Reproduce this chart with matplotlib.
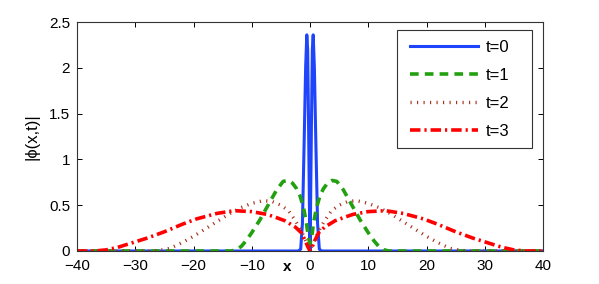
import matplotlib
matplotlib.use('Agg')
import matplotlib.pyplot as plt
from matplotlib.patches import Rectangle

# values
x_t0 = [-40, -2, -1.6, -1.3, -1.0, -0.75, -0.55, -0.4, -0.25, -0.1, 0,
        0.1, 0.25, 0.4, 0.55, 0.75, 1.0, 1.3, 1.6, 2, 40]
y_t0 = [0, 0, 0.02, 0.3, 1.2, 2.0, 2.36, 2.2, 1.4, 0.5, 0.0,
        0.5, 1.4, 2.2, 2.36, 2.0, 1.2, 0.3, 0.02, 0, 0]

x_t1 = [-40, -13.5, -12.6, -11.8, -11, -10, -8.6, -7.2, -5.7, -4.6, -3.8, -3.0, -2.3, -1.7, -1.1, -0.6, -0.3, 0,
        0.3, 0.6, 1.1, 1.7, 2.3, 3.0, 3.8, 4.6, 5.7, 7.2, 8.6, 10, 11, 11.8, 12.6, 13.5, 40]
y_t1 = [0, 0, 0.015, 0.05, 0.11, 0.20, 0.34, 0.50, 0.67, 0.76, 0.77, 0.74, 0.68, 0.60, 0.47, 0.30, 0.16, 0.08,
        0.16, 0.30, 0.47, 0.60, 0.68, 0.74, 0.77, 0.76, 0.67, 0.50, 0.34, 0.20, 0.11, 0.05, 0.015, 0, 0]

x_t2 = [-40, -28, -26, -24, -22, -20, -18, -16, -14, -12, -10, -8, -6.5, -5, -3.7, -2.5, -1.5, -0.8, -0.4, 0,
        0.4, 0.8, 1.5, 2.5, 3.7, 5, 6.5, 8, 10, 12, 14, 16, 18, 20, 22, 24, 26, 28, 40]
y_t2 = [0, 0, 0.005, 0.03, 0.09, 0.16, 0.24, 0.32, 0.40, 0.47, 0.52, 0.55, 0.54, 0.50, 0.44, 0.33, 0.22, 0.12, 0.06, 0.02,
        0.06, 0.12, 0.22, 0.33, 0.44, 0.50, 0.54, 0.55, 0.52, 0.47, 0.40, 0.32, 0.24, 0.16, 0.09, 0.03, 0.005, 0, 0]

x_t3 = [-40, -37, -35, -33, -30.5, -28, -25, -22, -19.5, -16, -13, -10, -7.4, -6, -4.3, -2.5, -1.5, -0.8, -0.4, 0,
        0.4, 0.8, 1.5, 2.5, 4.3, 6, 7.4, 10, 13, 16, 19.5, 22, 25, 28, 30.5, 33, 35, 37, 40]
y_t3 = [0, 0, 0.012, 0.04, 0.09, 0.14, 0.21, 0.29, 0.35, 0.41, 0.44, 0.43, 0.40, 0.37, 0.33, 0.26, 0.20, 0.11, 0.05, 0.0,
        0.05, 0.11, 0.20, 0.26, 0.33, 0.37, 0.40, 0.43, 0.44, 0.41, 0.35, 0.29, 0.21, 0.14, 0.09, 0.04, 0.012, 0, 0]

x_ticks = [-40, -30, -20, -10, 0, 10, 20, 30, 40]
y_ticks = [0, 0.5, 1, 1.5, 2, 2.5]

plt.rcParams['font.family'] = ['Liberation Sans', 'DejaVu Sans']

fig = plt.figure(figsize=(5.99, 2.84), dpi=100)
ax = fig.add_axes([77 / 599, 33 / 284, 466 / 599, 229 / 284])

ax.plot(x_t0, y_t0, color='#1f45fc', lw=2.2, label='t=0')
ax.plot(x_t1, y_t1, color='#22a010', lw=2.6, dashes=(2.4, 1.7), label='t=1')
ax.plot(x_t2, y_t2, color='#a8341f', lw=2.4, dashes=(0.35, 1.6), label='t=2')
ax.plot(x_t3, y_t3, color='#ff0000', lw=2.6, dashes=(2.9, 1.1, 0.6, 1.1), label='t=3')

ax.set_xlim(-40, 40)
ax.set_ylim(0, 2.5)
ax.set_xticks(x_ticks)
ax.set_yticks(y_ticks)
ax.set_yticklabels(['0', '0.5', '1', '1.5', '2', '2.5'])
ax.tick_params(direction='in', top=True, right=True, length=3.6, width=0.7,
               labelsize=11, colors='black')
ax.tick_params(axis='x', pad=5.5)
ax.tick_params(axis='y', pad=5)
for s in ax.spines.values():
    s.set_linewidth(0.8)
    s.set_color('#333333')

ax.set_xlabel('x', fontsize=11, fontweight='bold')
ax.xaxis.set_label_coords((287 - 77) / 466, -16 / 229)
ax.xaxis.label.set_va('center')
ax.set_ylabel('|ϕ(x,t)|', fontsize=12)
ax.yaxis.set_label_coords(-38 / 466, 0.5)

# legend box drawn by hand so the padding matches (wider on the right)
box = Rectangle(((397 - 77) / 466, (251 - 148) / 229), 135 / 466, 118 / 229,
                transform=ax.transAxes, facecolor='white', edgecolor='#333333',
                lw=0.8, zorder=4)
ax.add_patch(box)
leg = ax.legend(loc='upper left', bbox_to_anchor=((397 - 77) / 466, (251 - 27) / 229),
                borderaxespad=0, fontsize=12, handlelength=4.1, handletextpad=0.42,
                labelspacing=0.77, borderpad=0.78, frameon=False)
leg.set_zorder(5)

fig.savefig('out.png', dpi=100)
